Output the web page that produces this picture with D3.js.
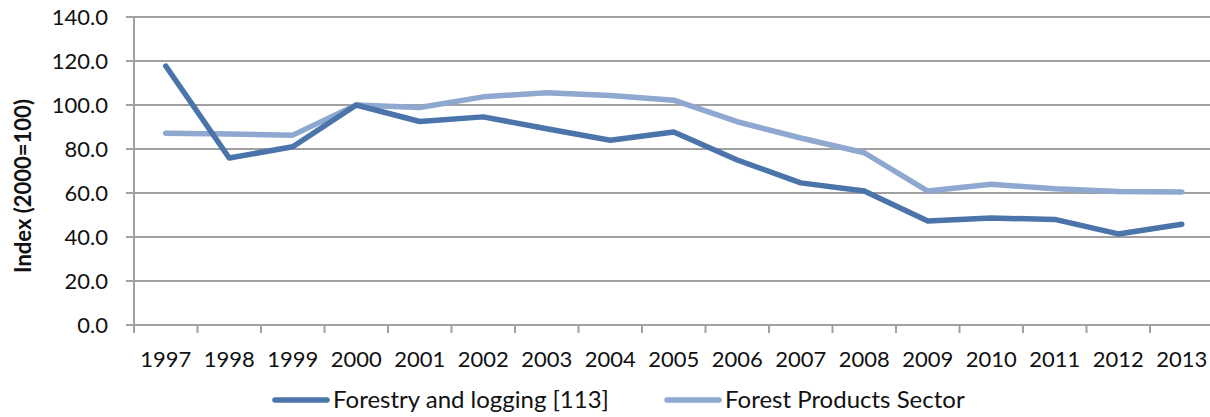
<!DOCTYPE html>
<meta charset="utf-8">
<style>
  body { margin: 0; background: #fff; }
  text { font-family: Lato, "Open Sans", sans-serif; fill: #111; }
</style>
<svg width="1210" height="417"></svg>
<script src="https://d3js.org/d3.v7.min.js"></script>
<script>

var years = ['1997','1998','1999','2000','2001','2002','2003','2004','2005','2006','2007','2008','2009','2010','2011','2012','2013'];
var forestry = [117.7, 75.9, 81.0, 100.0, 92.5, 94.6, 89.2, 84.0, 87.7, 75.0, 64.6, 60.9, 47.3, 48.6, 48.0, 41.4, 45.8];
var products = [87.2, 86.8, 86.3, 100.0, 98.9, 103.7, 105.6, 104.3, 102.2, 92.4, 85.0, 78.3, 60.9, 64.0, 61.9, 60.7, 60.5];
var yTicks = [0, 20, 40, 60, 80, 100, 120, 140];

var col_dark = '#4a74aa';
var col_light = '#8ea8cf';

var svg = d3.select("svg"),
    margin = {left: 134, right: 0, top: 17, bottom: 92},
    width = +svg.attr("width") - margin.left - margin.right,
    height = +svg.attr("height") - margin.top - margin.bottom;

var g = svg.append("g").attr("transform", "translate(" + margin.left + "," + margin.top + ")");

var x = d3.scaleBand().domain(years).range([0, 17 * 63.5]);
var y = d3.scaleLinear().domain([0, 140]).range([height, 0]);

// gridlines
g.append("g")
  .selectAll("line")
  .data(yTicks)
  .enter().append("line")
  .attr("x1", -8)
  .attr("x2", width)
  .attr("y1", d => y(d))
  .attr("y2", d => y(d))
  .attr("stroke", "#a0a0a0")
  .attr("stroke-width", 2);

// y axis line
g.append("line")
  .attr("x1", 0).attr("x2", 0)
  .attr("y1", 0).attr("y2", height + 8)
  .attr("stroke", "#a0a0a0")
  .attr("stroke-width", 2);

// x ticks at band boundaries
g.append("g")
  .selectAll("line")
  .data(years)
  .enter().append("line")
  .attr("x1", d => x(d) + x.step())
  .attr("x2", d => x(d) + x.step())
  .attr("y1", height)
  .attr("y2", height + 8)
  .attr("stroke", "#a0a0a0")
  .attr("stroke-width", 2);

// y tick labels
g.append("g")
  .selectAll("text")
  .data(yTicks)
  .enter().append("text")
  .attr("x", -26)
  .attr("y", d => y(d))
  .attr("dy", "0.35em")
  .attr("text-anchor", "end")
  .style("font-size", "22px")
  .text(d => d3.format(".1f")(d));

// x tick labels
g.append("g")
  .selectAll("text")
  .data(years)
  .enter().append("text")
  .attr("x", d => x(d) + x.bandwidth() / 2)
  .attr("y", height + 34)
  .attr("dy", "0.35em")
  .attr("text-anchor", "middle")
  .style("font-size", "22px")
  .text(d => d);

// y axis title
svg.append("text")
  .attr("transform", "translate(23,186) rotate(-90)")
  .attr("text-anchor", "middle")
  .attr("dy", "0.35em")
  .style("font-size", "22px")
  .style("font-weight", "bold")
  .text("Index (2000=100)");

var line = d3.line()
  .x((d, i) => x(years[i]) + x.bandwidth() / 2)
  .y(d => y(d));

var series = [
  {name: "Forestry and logging [113]", values: forestry, col: col_dark},
  {name: "Forest Products Sector", values: products, col: col_light}
];

g.selectAll("path.series")
  .data(series.slice().reverse())
  .enter().append("path")
  .attr("class", "series")
  .attr("d", d => line(d.values))
  .attr("fill", "none")
  .attr("stroke", d => d.col)
  .attr("stroke-width", 5.5)
  .attr("stroke-linecap", "round")
  .attr("stroke-linejoin", "round");

// legend
var legendX = [275, 667];
var leg = svg.append("g")
  .selectAll("g")
  .data(series)
  .enter().append("g")
  .attr("transform", (d, i) => "translate(" + legendX[i] + ",400)");

leg.append("line")
  .attr("x1", 0).attr("x2", 52)
  .attr("stroke", d => d.col)
  .attr("stroke-width", 5.5)
  .attr("stroke-linecap", "round");

leg.append("text")
  .attr("x", 58)
  .attr("dy", "0.35em")
  .style("font-size", "24px")
  .text(d => d.name);

</script>
